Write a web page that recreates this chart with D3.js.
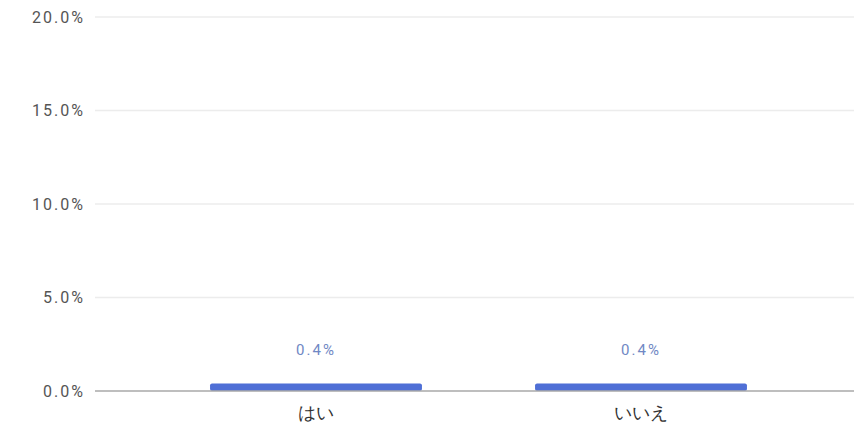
<!DOCTYPE html>
<html><head><meta charset="utf-8">
<script src="https://cdn.jsdelivr.net/npm/d3@7"></script>
<style>body{margin:0;background:#fff}svg{display:block;font-family:"Noto Sans CJK JP","Noto Sans",sans-serif}</style>
</head><body>
<svg id="c" width="854" height="429"></svg>
<script>
const categories = ["はい", "いいえ"];
const values = [0.4, 0.4];
const yTicks = [0, 5, 10, 15, 20];

(function () {
const svg = d3.select("#c");
const gLeft = 95, gRight = 854, mTop = 17, mBottom = 391;
const x = d3.scaleBand().domain(categories).range([153.5, 803.5]).paddingInner(0.348).paddingOuter(0.174);
const y = d3.scaleLinear().domain([0, 20]).range([mBottom, mTop]);

// gridlines
svg.append("g").selectAll("line").data(yTicks.filter(d => d > 0)).join("line")
  .attr("x1", gLeft).attr("x2", gRight)
  .attr("y1", d => y(d)).attr("y2", d => y(d))
  .attr("stroke", "#ececec").attr("stroke-width", 1.5);

// y axis labels
const yAxis = d3.axisLeft(y).tickValues(yTicks).tickSize(0).tickPadding(10)
  .tickFormat(d => d.toFixed(1) + "%");
const ga = svg.append("g").attr("transform", `translate(${gLeft},0)`).call(yAxis);
ga.select(".domain").remove();
ga.selectAll("text").attr("font-size", 16).attr("letter-spacing", 2).attr("fill", "#555")
  .attr("font-family", "Roboto, sans-serif");

// bars
svg.append("g").selectAll("rect").data(values).join("rect")
  .attr("x", (d, i) => x(categories[i]))
  .attr("width", x.bandwidth())
  .attr("y", d => y(d))
  .attr("height", d => y(0) - y(d))
  .attr("rx", 2)
  .attr("fill", "#4f6fd6");

// value labels
svg.append("g").selectAll("text").data(values).join("text")
  .attr("x", (d, i) => x(categories[i]) + x.bandwidth() / 2)
  .attr("y", d => y(d) - 29)
  .attr("text-anchor", "middle")
  .attr("font-size", 15).attr("letter-spacing", 2).attr("fill", "#7088c4")
  .attr("font-family", "Roboto, sans-serif")
  .text(d => d.toFixed(1) + "%");

// zero line
svg.append("line").attr("x1", gLeft).attr("x2", gRight).attr("y1", y(0)).attr("y2", y(0))
  .attr("stroke", "#a8a8a8").attr("stroke-width", 1.5);

// x axis labels
const xAxis = d3.axisBottom(x).tickSize(0).tickPadding(15);
const gx = svg.append("g").attr("transform", `translate(0,${mBottom})`).call(xAxis);
gx.select(".domain").remove();
gx.selectAll("text").attr("font-size", 18).attr("fill", "#333");
})();
</script>
</body></html>
